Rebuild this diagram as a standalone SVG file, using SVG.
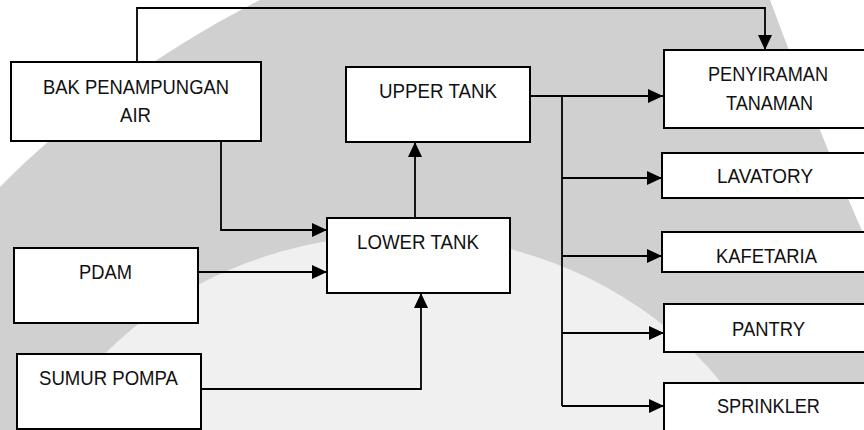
<svg xmlns="http://www.w3.org/2000/svg" width="864" height="430" viewBox="0 0 864 430">
<style>
.box{fill:#fff;stroke:#000;stroke-width:2}
.lbl{font-family:"Liberation Sans",Arial,sans-serif;font-size:21px;fill:#111;text-anchor:middle}
.ln{fill:none;stroke:#000;stroke-width:1.8}
</style>
<defs>
<marker id="ah" markerUnits="userSpaceOnUse" markerWidth="16" markerHeight="14" refX="15" refY="7" orient="auto">
<path d="M0,0 L15,7 L0,14 Z" fill="#000"/>
</marker>
</defs>
<rect width="864" height="430" fill="#fff"/>
<g id="watermark">
<path d="M0,187 C60,125 160,50 260,0 L770,0 C800,80 835,170 864,235 L864,430 L0,430 Z" fill="#d0d0d0"/>
<ellipse cx="400" cy="600" rx="400" ry="365" fill="#f0f0f0"/>
</g>
<g id="connectors">
<path class="ln" d="M137,62 V8 H765 V50" marker-end="url(#ah)"/>
<path class="ln" d="M221,141 V230 H327" marker-end="url(#ah)"/>
<path class="ln" d="M194,272 H327" marker-end="url(#ah)"/>
<path class="ln" d="M201,389 H421 V293" marker-end="url(#ah)"/>
<path class="ln" d="M415,218 V142" marker-end="url(#ah)"/>
<path class="ln" d="M528,96 H663" marker-end="url(#ah)"/>
<path class="ln" d="M562,96 V406"/>
<path class="ln" d="M562,178 H662" marker-end="url(#ah)"/>
<path class="ln" d="M562,256 H662" marker-end="url(#ah)"/>
<path class="ln" d="M562,333 H664" marker-end="url(#ah)"/>
<path class="ln" d="M562,406 H664" marker-end="url(#ah)"/>
</g>
<g id="bak">
<rect class="box" x="11" y="62" width="250" height="79"/>
<text class="lbl" x="136" y="94" textLength="186" lengthAdjust="spacingAndGlyphs">BAK PENAMPUNGAN</text>
<text class="lbl" x="135.5" y="122" textLength="31" lengthAdjust="spacingAndGlyphs">AIR</text>
</g>
<g id="upper">
<rect class="box" x="346" y="67" width="184" height="75"/>
<text class="lbl" x="438" y="98" textLength="118" lengthAdjust="spacingAndGlyphs">UPPER TANK</text>
</g>
<g id="lower">
<rect class="box" x="327" y="218" width="183" height="75"/>
<text class="lbl" x="418" y="249" textLength="122" lengthAdjust="spacingAndGlyphs">LOWER TANK</text>
</g>
<g id="pdam">
<rect class="box" x="14" y="248" width="184" height="75"/>
<text class="lbl" x="105.5" y="279" textLength="53" lengthAdjust="spacingAndGlyphs">PDAM</text>
</g>
<g id="sumur">
<rect class="box" x="17" y="354" width="184" height="75"/>
<text class="lbl" x="108.5" y="385" textLength="139" lengthAdjust="spacingAndGlyphs">SUMUR POMPA</text>
</g>
<g id="penyiraman">
<rect class="box" x="664" y="50" width="210" height="78"/>
<text class="lbl" x="768" y="81" textLength="120" lengthAdjust="spacingAndGlyphs">PENYIRAMAN</text>
<text class="lbl" x="769.5" y="110" textLength="87" lengthAdjust="spacingAndGlyphs">TANAMAN</text>
</g>
<g id="lavatory">
<rect class="box" x="662" y="153" width="212" height="45"/>
<text class="lbl" x="765" y="183" textLength="96" lengthAdjust="spacingAndGlyphs">LAVATORY</text>
</g>
<g id="kafetaria">
<rect class="box" x="662" y="232" width="212" height="40"/>
<text class="lbl" x="766.5" y="263" textLength="101" lengthAdjust="spacingAndGlyphs">KAFETARIA</text>
</g>
<g id="pantry">
<rect class="box" x="664" y="304" width="210" height="48"/>
<text class="lbl" x="768.5" y="336" textLength="73" lengthAdjust="spacingAndGlyphs">PANTRY</text>
</g>
<g id="sprinkler">
<rect class="box" x="664" y="383" width="210" height="60"/>
<text class="lbl" x="768.5" y="413" textLength="103" lengthAdjust="spacingAndGlyphs">SPRINKLER</text>
</g>
</svg>
